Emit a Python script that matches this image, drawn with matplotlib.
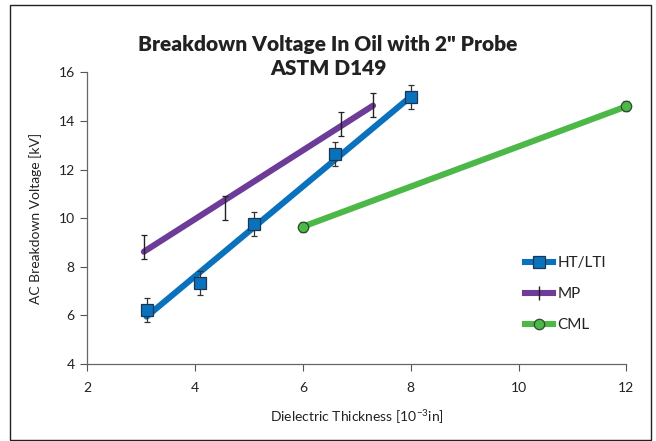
import matplotlib
matplotlib.use('Agg')
import matplotlib.pyplot as plt
from matplotlib.lines import Line2D
from matplotlib.patches import Rectangle

plt.rcParams['font.family'] = ['Lato', 'DejaVu Sans']

# HT/LTI measurements
ht_x = [3.1, 4.1, 5.1, 6.6, 8.0]
ht_y = [6.22, 7.32, 9.77, 12.64, 14.98]
ht_err = [0.5, 0.5, 0.5, 0.5, 0.5]
ht_fit_x = [3.1, 8.0]
ht_fit_y = [5.95, 15.0]

# MP measurements
mp_x = [3.05, 4.55, 6.7, 7.3]
mp_y = [8.8, 10.43, 13.88, 14.66]
mp_err = [0.5, 0.5, 0.5, 0.5]
mp_fit_x = [3.05, 7.3]
mp_fit_y = [8.62, 14.63]

# CML measurements
cml_x = [6.0, 12.0]
cml_y = [9.65, 14.6]
cml_err = [0.2, 0.2]

labels = ['HT/LTI', 'MP', 'CML']
blue = '#0a72bd'
purple = '#6d3c98'
green = '#4cb848'

fig = plt.figure(figsize=(6.56, 4.41), dpi=100)
ax = fig.add_axes([0.133, 0.1746, 0.822, 0.6614])

# trend lines
ax.plot(mp_fit_x, mp_fit_y, color=purple, lw=4.4, solid_capstyle='round', zorder=2)
ax.plot(ht_fit_x, ht_fit_y, color=blue, lw=4.4, solid_capstyle='round', zorder=2)
ax.plot(cml_x, cml_y, color=green, lw=4.4, solid_capstyle='round', zorder=2)

# error bars + markers
ax.errorbar(mp_x, mp_y, yerr=mp_err, fmt='none', ecolor='#222222', elinewidth=1.0,
            capsize=2.5, capthick=0.9, zorder=3)
ax.errorbar(ht_x, ht_y, yerr=ht_err, fmt='none', ecolor='#333333', elinewidth=0.9,
            capsize=2.5, capthick=0.9, zorder=3)
ax.plot(ht_x, ht_y, 's', ms=8.5, mfc=blue, mec='#1d3550', mew=0.9, zorder=4)
eb = ax.errorbar(cml_x, cml_y, yerr=cml_err, fmt='none', ecolor='#333333', elinewidth=0.9,
                 capsize=2.5, capthick=0.9, zorder=3)
for art in eb.lines[1] + eb.lines[2]:
    art.set_clip_on(False)
ax.plot(cml_x, cml_y, 'o', ms=7.5, mfc=green, mec='#2f4a2a', mew=0.9, zorder=4,
        clip_on=False)

ax.set_xlim(2, 12)
ax.set_ylim(4, 16)
ax.set_xticks([2, 4, 6, 8, 10, 12])
ax.set_yticks([4, 6, 8, 10, 12, 14, 16])
ax.tick_params(axis='both', direction='out', length=5, width=0.8, color='#555555',
               labelsize=10, labelcolor='#222222', pad=4)
ax.tick_params(axis='x', pad=8)
for s in ['top', 'right']:
    ax.spines[s].set_visible(False)
for s in ['left', 'bottom']:
    ax.spines[s].set_color('#666666')
    ax.spines[s].set_linewidth(0.9)

ax.set_xlabel('Dielectric Thickness [10$^{\\mathregular{-3}}$in]', fontsize=10,
              color='#222222', labelpad=10)
ax.set_ylabel('AC Breakdown Voltage [kV]', fontsize=10, color='#222222', labelpad=12)

fig.text(0.5, 0.9, 'Breakdown Voltage In Oil with 2" Probe', ha='center', va='center',
         fontsize=15, fontweight='heavy', color='#222222')
fig.text(0.5, 0.845, 'ASTM D149', ha='center', va='center',
         fontsize=15, fontweight='heavy', color='#222222')

handles = [
    Line2D([], [], color=blue, lw=4.4, marker='s', ms=8, mfc=blue, mec='#1d3550', mew=0.9),
    Line2D([], [], color=purple, lw=4.4, marker='|', ms=10, mec='#222222', mew=1.0),
    Line2D([], [], color=green, lw=4.4, marker='o', ms=7.5, mfc=green, mec='#2f4a2a', mew=0.9),
]
fig.legend(handles, labels, loc='center left', bbox_to_anchor=(0.78, 0.333),
           frameon=False, fontsize=11, handlelength=1.8, handletextpad=0.3,
           labelspacing=1.1, labelcolor='#222222')

# outer border
fig.patches.append(Rectangle((0.015, 0.002), 0.978, 0.986, transform=fig.transFigure,
                             fill=False, edgecolor='#222222', lw=1.0))

fig.savefig('out.png', dpi=100)
